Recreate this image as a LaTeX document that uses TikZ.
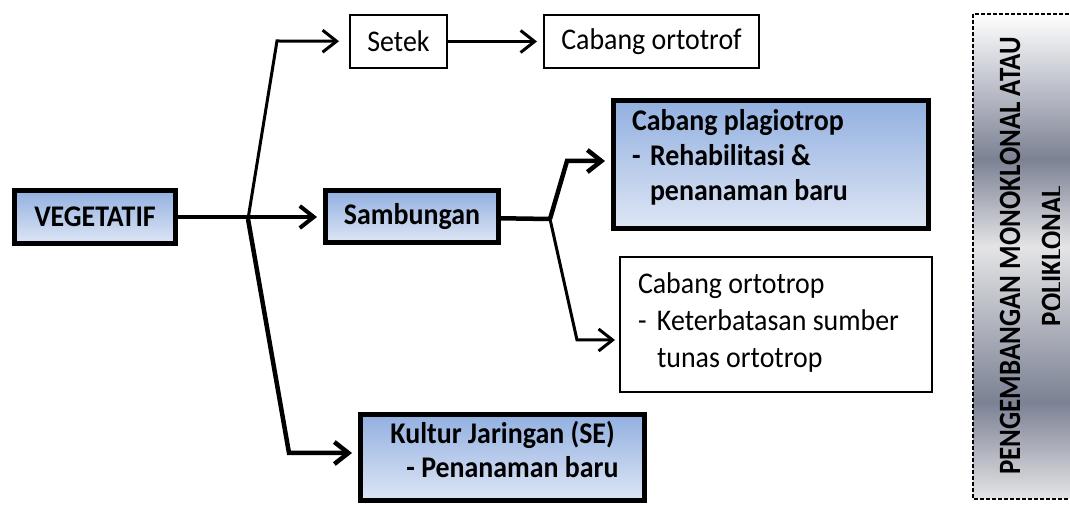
\documentclass[tikz,border=0pt]{standalone}
\usepackage{fontspec}
\setmainfont{Carlito}[FakeStretch=0.93]
\newfontfamily\sempit{Carlito}[FakeStretch=0.87]
\usepackage{xcolor}
\usepackage{tikz}
\usetikzlibrary{arrows.meta}
\usetikzlibrary{positioning}

\definecolor{birutua}{RGB}{146,176,224}
\definecolor{birumuda}{RGB}{222,230,245}
\definecolor{abugelap}{RGB}{124,130,148}
\definecolor{abuterang}{RGB}{228,228,230}
\pgfdeclareverticalshading{logam}{100bp}{color(0bp)=(abuterang); color(25bp)=(abuterang); color(35bp)=(abugelap); color(51bp)=(abuterang); color(60bp)=(abugelap); color(75bp)=(white); color(100bp)=(white)}

\begin{document}
\begin{tikzpicture}[x=0.5pt,y=-0.5pt,>={Straight Barb[length=7pt,width=11pt]}]
 				 \tikzstyle{kotak}=[draw, line width=1pt, font=\fontsize{15}{17}\selectfont]
 				 \tikzstyle{kotakbiru}=[draw, line width=2.5pt, top color=birutua, bottom color=birumuda, font=\bfseries\fontsize{15}{17}\selectfont]
 				 \tikzstyle{panah}=[->, line width=1.5pt, shorten >=3pt]
 				 \tikzstyle{panahtebal}=[->, line width=2.25pt, shorten >=3pt]

						\useasboundingbox (0,0) rectangle (1070,506);
						\clip (0,0) rectangle (1070,506);

						\node[kotakbiru, minimum width=80.5pt, minimum height=26.5pt] (veg) at (95,217) {VEGETATIF};
						\node[kotakbiru, minimum width=86.5pt, minimum height=26pt] (sam) [right=72.5pt of veg] {Sambungan};
						\node[kotak, minimum width=48.5pt, minimum height=26.5pt] (setek) at (398.5,41.5) {Setek};
						\node[kotak, minimum width=107.5pt, minimum height=26.5pt] (ortotrof) [right=47.5pt of setek] {Cabang ortotrof};
						\node[kotakbiru, minimum width=157.5pt, minimum height=64pt, text width=139pt, inner xsep=9.25pt, inner ysep=0pt, align=left, font=\bfseries\fontsize{15}{17.5}\selectfont] (plagio) at (771,164.5)
							{\spaceskip=0pt Cabang plagiotrop\\\makebox[9pt][l]{-}Rehabilitasi \&\\\hspace*{9pt}penanaman baru\rule[-10pt]{0pt}{0pt}};
						\node[kotak, minimum width=156pt, minimum height=67.5pt, text width=138pt, inner xsep=9pt, inner ysep=0pt, align=left, font=\fontsize{15}{18.5}\selectfont] (orto) at (776,324.5)
							{\spaceskip=0pt Cabang ortotrop\\\makebox[9.5pt][l]{-}Keterbatasan sumber\\\hspace*{9.5pt}tunas ortotrop\rule[-4pt]{0pt}{0pt}};
						\node[kotakbiru, minimum width=142pt, minimum height=43pt, inner ysep=0pt, align=center] (kultur) at (502.5,457.5)
							{\spaceskip=0pt Kultur Jaringan (SE)\\\hspace*{10pt}- Penanaman baru\rule[-8pt]{0pt}{0pt}};

						% percabangan
						\coordinate (j1) at (248,219);
						\coordinate (k1) at (277,41);
						\coordinate (k2) at (289,453);
						\coordinate (j2) at (550,219);
						\coordinate (k3) at (567,161);
						\coordinate (k4) at (577,340);

						\draw[panah, line width=2pt] (veg) -- (sam);
						\draw[panah, shorten >=5pt] (j1) -- (k1) -- (setek);
						\draw[panahtebal] (j1) -- (k2) -- (k2 -| kultur.west);
						\draw[line width=2.25pt] (sam) -- (j2);
						\draw[panahtebal] (j2) -- (k3) -- (k3 -| plagio.west);
						\draw[panah, shorten >=2pt] (j2) -- (k4) -- (k4 -| orto.west);
						\draw[panah] (setek) -- (ortotrof);

						% kotak kanan
						\path[draw, line width=1.25pt, dash pattern=on 2pt off 1pt, shading=logam] (973,14) rectangle (1100,499);
						\begin{scope}
						\clip (973,14) rectangle (1059,499);
						\node[rotate=90, align=center, font=\sempit\bfseries\fontsize{15.5}{21}\selectfont] (judul) at (1031,256) {PENGEMBANGAN MONOKLONAL ATAU\\POLIKLONAL};
						\end{scope}
 				\end{tikzpicture}
\end{document}
